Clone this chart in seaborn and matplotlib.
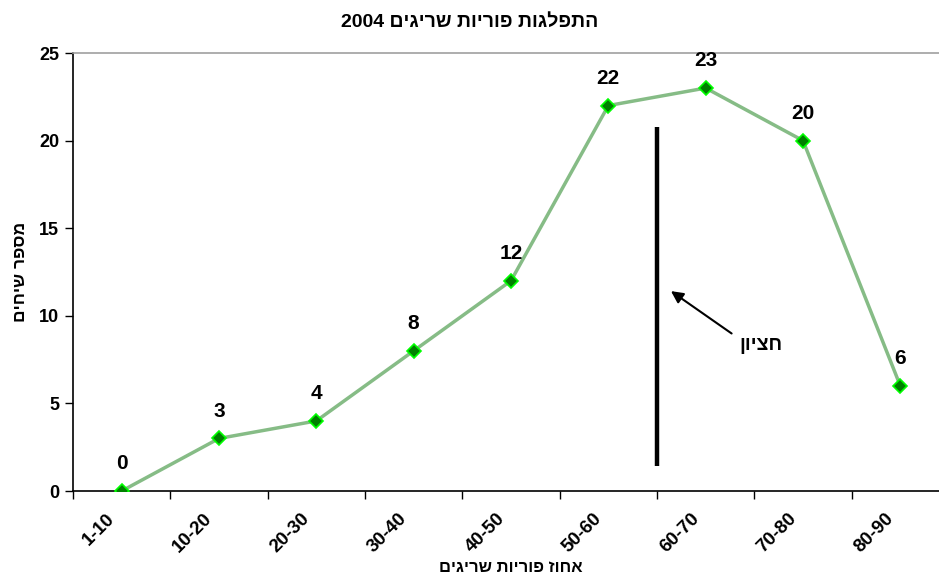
import numpy as np
import pandas as pd
import matplotlib
matplotlib.use("Agg")
import matplotlib.pyplot as plt
import seaborn as sns

sns.set_theme(style="white")
plt.rcParams['font.family'] = ['Liberation Sans', 'DejaVu Sans']
plt.rcParams['font.weight'] = 'bold'
plt.rcParams['text.color'] = 'black'
plt.rcParams['axes.labelcolor'] = 'black'
plt.rcParams['xtick.color'] = 'black'
plt.rcParams['ytick.color'] = 'black'


def heb(s):
    # matplotlib has no bidi: reverse Hebrew words into visual order
    return s[::-1]


# data
categories = ['1-10', '10-20', '20-30', '30-40', '40-50', '50-60', '60-70', '70-80', '80-90']
counts = [0, 3, 4, 8, 12, 22, 23, 20, 6]
median_x = 5.5
median_y = [1.4, 20.8]

title = '2004 ' + heb('התפלגות פוריות שריגים')
xlabel = heb('אחוז פוריות שריגים')
ylabel = heb('מספר שיחים')
median_label = heb('חציון')

df = pd.DataFrame({'range': categories, 'count': counts})
df['pos'] = np.arange(len(df))

fig = plt.figure(figsize=(9.39, 5.79), dpi=100)
ax = fig.add_axes([73 / 939, 88 / 579, 876 / 939, 438 / 579])

sns.lineplot(data=df, x='pos', y='count', ax=ax, color='#86bc86', linewidth=2.5,
             marker='D', markersize=7, markerfacecolor='#008000',
             markeredgecolor='#00ff00', markeredgewidth=1.2, zorder=3)

# value labels
for p, c in zip(df['pos'], df['count']):
    ax.text(p, c + 1.55, str(c), ha='center', va='center', fontsize=15, fontweight='bold')

# median line + arrow
ax.plot([median_x, median_x], median_y, color='black', linewidth=3.2, solid_capstyle='butt')
ax.annotate('', xy=(5.62, 11.5), xytext=(6.29, 8.9),
            arrowprops=dict(arrowstyle='-|>', color='black', lw=1.5, mutation_scale=18))
ax.text(6.57, 8.3, median_label, ha='center', va='center', fontsize=14, fontweight='bold')

ax.set_xlim(-0.5, 8.5)
ax.set_ylim(0, 25)
ax.set_yticks([0, 5, 10, 15, 20, 25])
# labels sit a little left of the category centre, like the original
ax.set_xticks(df['pos'] - 0.093)
ax.set_xticklabels(categories, rotation=45, ha='right', va='center', rotation_mode='anchor',
                   fontsize=13.5, fontweight='bold')
ax.set_xticks(np.arange(-0.5, 9, 1), minor=True)
ax.tick_params(axis='x', which='major', length=0, pad=18)
ax.tick_params(axis='x', which='minor', length=6, width=1, color='black', direction='out', bottom=True)
ax.tick_params(axis='y', length=6, width=1, color='black', direction='out', left=True,
               labelsize=13, pad=4)
for lab in ax.get_yticklabels():
    lab.set_fontweight('bold')

ax.set_xlabel(xlabel, fontsize=12, fontweight='bold')
ax.xaxis.set_label_coords(0.5, -(560 - 491) / 438)
ax.set_ylabel(ylabel, fontsize=12.5, fontweight='bold')
ax.yaxis.set_label_coords(-(73 - 28) / 876, 0.5)

for side in ['left', 'bottom']:
    ax.spines[side].set_color('black')
    ax.spines[side].set_linewidth(1.2)
ax.spines['top'].set_color('#a0a0a0')
ax.spines['top'].set_linewidth(1.2)
ax.spines['right'].set_visible(False)

fig.text(0.5, 1 - 22 / 579, title, ha='center', va='center', fontsize=14, fontweight='bold')

fig.savefig('out.png', dpi=100)
